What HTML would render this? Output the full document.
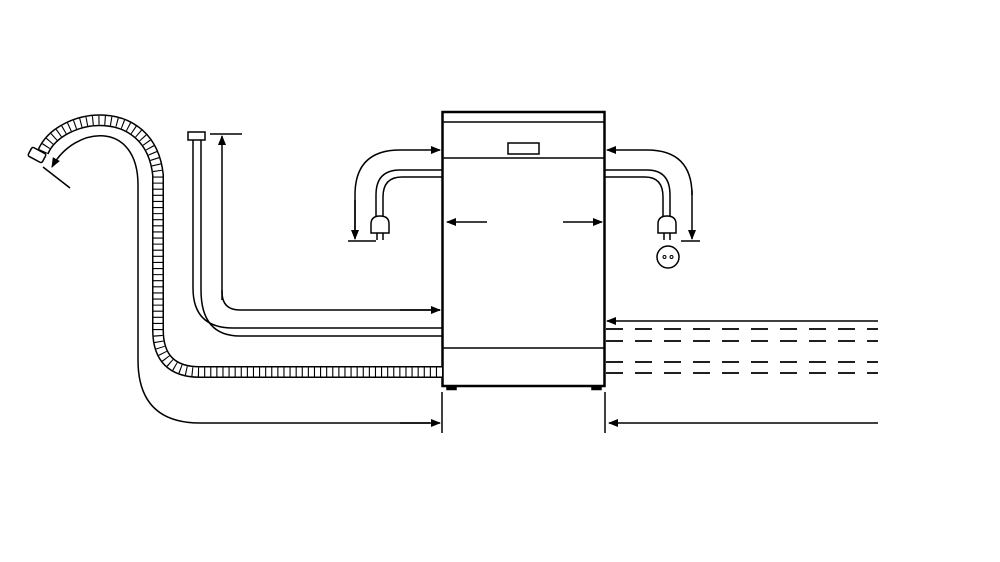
<!DOCTYPE html>
<html><head><meta charset="utf-8"><style>html,body{margin:0;padding:0;background:#fff}svg{display:block}</style></head>
<body>
<svg width="1000" height="562" viewBox="0 0 1000 562" xmlns="http://www.w3.org/2000/svg">
<defs>
<marker id="a" viewBox="0 0 10 10" refX="9" refY="5" markerWidth="10" markerHeight="10" markerUnits="userSpaceOnUse" orient="auto"><path d="M0,1 L10,5 L0,9 z" fill="#000"/></marker>
</defs>
<g fill="none" stroke="#000" stroke-width="1.5">
<!-- dishwasher -->
<rect x="442.5" y="112" width="162" height="274" stroke-width="2.5"/>
<line x1="443" y1="122" x2="604" y2="122"/>
<line x1="443" y1="158" x2="604" y2="158"/>
<rect x="508" y="143" width="31" height="11"/>
<line x1="443" y1="348" x2="604" y2="348"/>
<rect x="447" y="386" width="9" height="3.5" fill="#000"/>
<rect x="592" y="386" width="9" height="3.5" fill="#000"/>
<!-- internal arrows -->
<line x1="487" y1="222" x2="447" y2="222" marker-end="url(#a)"/>
<line x1="563" y1="222" x2="602" y2="222" marker-end="url(#a)"/>
<!-- left power -->
<path d="M355,237 L355,195 Q355,150 400,150 L440,150" marker-end="url(#a)"/>
<path d="M355,200 L355,239" marker-end="url(#a)"/>
<line x1="348" y1="241" x2="376" y2="241"/>
<path d="M442,170 L400,170 Q376,170 376,195 L376,218"/>
<path d="M442,177 L402,177 Q383,177 383,197 L383,218"/>
<path d="M371,233 L371,224 Q371,216 380,216 Q389,216 389,224 L389,233 Z" fill="#fff"/>
<line x1="377" y1="233" x2="377" y2="240"/><line x1="383" y1="233" x2="383" y2="240"/>
<!-- right power -->
<path d="M692,195 Q692,150 647,150 L607,150" marker-end="url(#a)"/>
<path d="M692,190 L692,239" marker-end="url(#a)"/>
<line x1="681" y1="241" x2="700" y2="241"/>
<path d="M605,170 L647,170 Q670,170 670,195 L670,218"/>
<path d="M605,177 L645,177 Q663,177 663,197 L663,218"/>
<path d="M658,233 L658,224 Q658,216 667,216 Q676,216 676,224 L676,233 Z" fill="#fff"/>
<line x1="664" y1="233" x2="664" y2="240"/><line x1="670" y1="233" x2="670" y2="240"/>
<circle cx="668" cy="257" r="11"/>
<circle cx="664.5" cy="257" r="1.5" stroke-width="1"/><circle cx="671.5" cy="257" r="1.5" stroke-width="1"/>
<!-- right lines -->
<line x1="878" y1="321" x2="607" y2="321" marker-end="url(#a)"/>
<g stroke-dasharray="17 12" stroke-width="1.8">
<line x1="606" y1="329" x2="878" y2="329"/>
<line x1="606" y1="341" x2="878" y2="341"/>
<line x1="606" y1="362" x2="878" y2="362"/>
<line x1="606" y1="373" x2="878" y2="373"/>
</g>
<line x1="878" y1="423" x2="609" y2="423" marker-end="url(#a)"/>
<line x1="605" y1="392" x2="605" y2="433"/>
<line x1="442" y1="392" x2="442" y2="433"/>
<!-- fill hose -->
<path d="M193,140 L193,288 Q193,328 233,328 L442,328"/>
<path d="M201,140 L201,290 Q201,336 240,336 L442,336"/>
<rect x="188" y="132" width="17" height="8" fill="#fff"/>
<path d="M222,300 L222,136" marker-end="url(#a)"/>
<line x1="210" y1="134" x2="242" y2="134"/>
<path d="M440,310 L240,310 Q222,310 222,292 L222,290"/>
<line x1="400" y1="310" x2="440" y2="310" marker-end="url(#a)"/>
<!-- drain hose -->
<g>
<path d="M43,152 C60,112 150,100 158,175 L158,330 Q158,372 200,372 L442,372" stroke-width="12"/>
<path d="M43,152 C60,112 150,100 158,175 L158,330 Q158,372 200,372 L442,372" stroke="#fff" stroke-width="9"/>
<path d="M43,152 C60,112 150,100 158,175 L158,330 Q158,372 200,372 L442,372" stroke-width="9" stroke-dasharray="1.1 5"/>
</g>
<rect x="29" y="150" width="16" height="10" rx="2" transform="rotate(28 37 155)" fill="#fff"/>
<!-- drain arrow -->
<path d="M430,423 L200,423 Q138,423 138,360 L138,185 C138,120 75,125 52,167" marker-end="url(#a)"/>
<line x1="400" y1="423" x2="440" y2="423" marker-end="url(#a)"/>
<line x1="43" y1="167" x2="70" y2="188"/>
</g>
</svg>
</body></html>
